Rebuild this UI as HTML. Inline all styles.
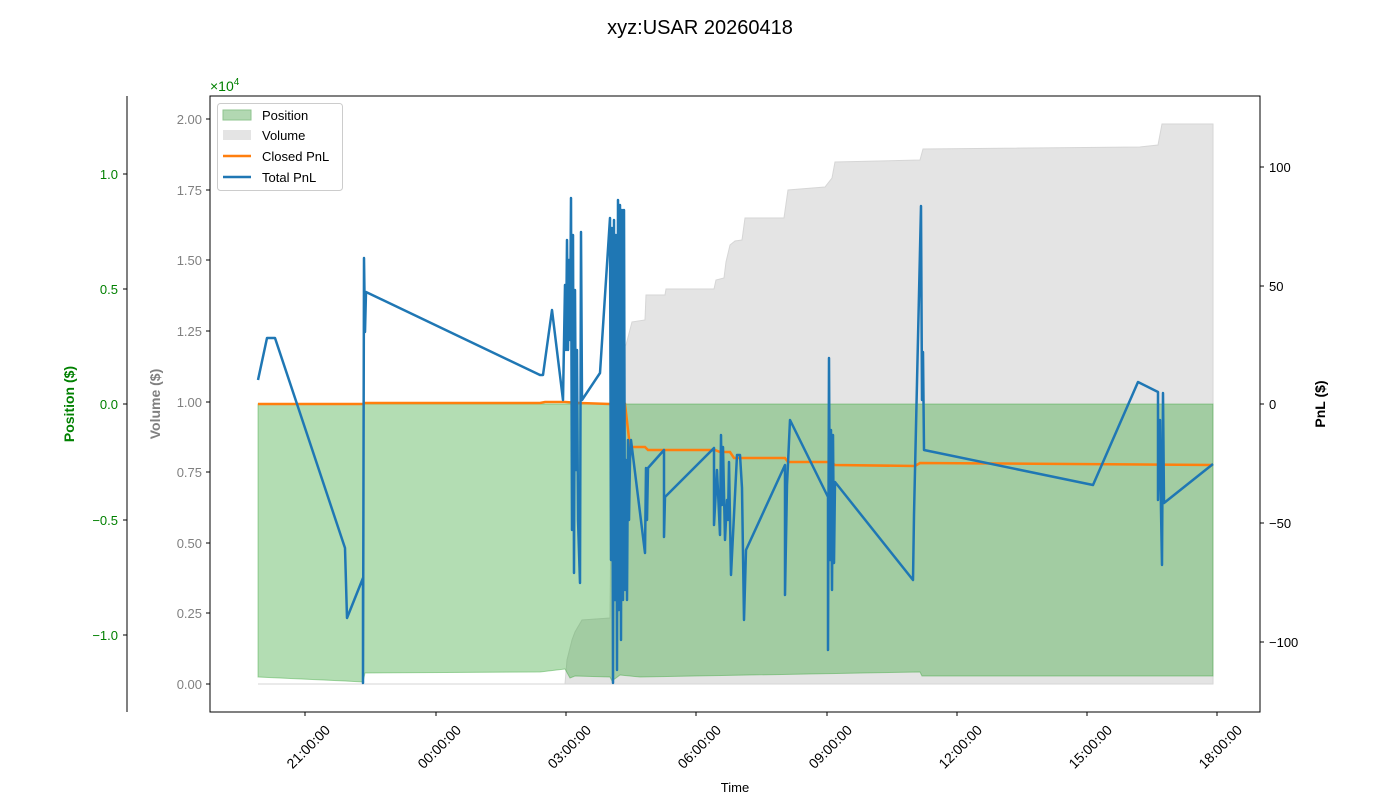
<!DOCTYPE html>
<html><head><style>body{margin:0;background:#fff}svg{display:block}text{font-family:"Liberation Sans","DejaVu Sans",sans-serif}</style></head>
<body>
<svg width="1400" height="800" xmlns="http://www.w3.org/2000/svg">
<text x="700" y="34" font-size="20" text-anchor="middle">xyz:USAR 20260418</text>
<polygon fill="#e4e4e4" stroke="#d6d6d6" stroke-width="1" points="258,684 565,684 567,660 572,640 575,632 582,620 610,618 612,390 620,350 626,345 632,322 645,320 646,295 665,295 666,289 714,289 716,280 724,278 726,262 730,245 735,241 742,240 745,218 784,218 788,190 825,187 832,178 835,162 920,160 923,149 1140,147 1158,145 1162,124 1213,124 1213,684"/>
<polygon fill="#2ca02c" fill-opacity="0.36" stroke="#2ca02c" stroke-opacity="0.4" stroke-width="1" points="258,404 1213,404 1213,676 922,676 920,672 640,677 620,675 612,681 610,677 575,676 570,678 565,669 540,672 365,673 363,682 345,681 258,677"/>
<polyline fill="none" stroke="#ff7f0e" stroke-width="2.5" points="258,404 363,404 365,403 540,403 545,402 565,402 580,403 610,404 625,404 630,447 645,447 648,450 715,450 720,452 730,452 734,458 785,458 788,462 830,462 835,465 915,466 920,463 1213,465"/>
<polyline fill="none" stroke="#1f77b4" stroke-width="2.5" stroke-linejoin="round" points="258,380 267,338 275,338 345,548 347,618 363,578 363,683 364,258 365,332 366,292 540,375 543,375 552,310 563,400 565,285 566,350 567,240 568,350 569,260 570,340 571,198 572,530 573,235 574,573 575,290 576,470 577,350 578,520 580,583 581,232 582,400 600,373 610,218 611,560 612,228 613,683 614,220 615,600 616,235 617,670 618,200 619,610 620,205 621,640 622,210 623,600 624,210 625,590 626,460 627,600 628,440 629,520 630,460 631,440 645,553 646,468 647,520 648,468 664,450 664,537 665,497 714,448 714,525 717,470 720,535 721,435 722,505 723,447 725,540 727,500 728,520 729,462 731,575 737,455 740,455 742,488 744,620 746,550 785,465 785,595 787,485 790,420 828,497 828,650 829,358 830,560 831,430 832,590 833,435 834,563 835,482 913,580 914,515 921,206 922,400 923,352 924,450 1093,485 1138,382 1158,392 1158,500 1160,420 1161,510 1162,565 1163,393 1164,503 1213,464"/>
<rect x="210" y="96" width="1050" height="616" fill="none" stroke="#000" stroke-width="1"/>
<g font-size="13" fill="#808080" text-anchor="end">
<line x1="206" y1="684" x2="210" y2="684" stroke="#000"/><text x="202" y="689">0.00</text>
<line x1="206" y1="613" x2="210" y2="613" stroke="#000"/><text x="202" y="618">0.25</text>
<line x1="206" y1="543" x2="210" y2="543" stroke="#000"/><text x="202" y="548">0.50</text>
<line x1="206" y1="472" x2="210" y2="472" stroke="#000"/><text x="202" y="477">0.75</text>
<line x1="206" y1="402" x2="210" y2="402" stroke="#000"/><text x="202" y="407">1.00</text>
<line x1="206" y1="331" x2="210" y2="331" stroke="#000"/><text x="202" y="336">1.25</text>
<line x1="206" y1="260" x2="210" y2="260" stroke="#000"/><text x="202" y="265">1.50</text>
<line x1="206" y1="190" x2="210" y2="190" stroke="#000"/><text x="202" y="195">1.75</text>
<line x1="206" y1="119" x2="210" y2="119" stroke="#000"/><text x="202" y="124">2.00</text>
</g>
<text x="160" y="404" font-size="14" font-weight="bold" fill="#808080" text-anchor="middle" transform="rotate(-90 160 404)">Volume ($)</text>
<text x="210" y="91" font-size="14" fill="#008000">×10<tspan font-size="10" dy="-6">4</tspan></text>
<line x1="127" y1="96" x2="127" y2="712" stroke="#000"/>
<g font-size="13" fill="#008000" text-anchor="end">
<line x1="123" y1="174" x2="127" y2="174" stroke="#000"/><text x="118" y="179">1.0</text>
<line x1="123" y1="289" x2="127" y2="289" stroke="#000"/><text x="118" y="294">0.5</text>
<line x1="123" y1="404" x2="127" y2="404" stroke="#000"/><text x="118" y="409">0.0</text>
<line x1="123" y1="520" x2="127" y2="520" stroke="#000"/><text x="118" y="525">−0.5</text>
<line x1="123" y1="635" x2="127" y2="635" stroke="#000"/><text x="118" y="640">−1.0</text>
</g>
<text x="74" y="404" font-size="14" font-weight="bold" fill="#008000" text-anchor="middle" transform="rotate(-90 74 404)">Position ($)</text>
<g font-size="13" fill="#000">
<line x1="1260" y1="167" x2="1264" y2="167" stroke="#000"/><text x="1269" y="172">100</text>
<line x1="1260" y1="286" x2="1264" y2="286" stroke="#000"/><text x="1269" y="291">50</text>
<line x1="1260" y1="404" x2="1264" y2="404" stroke="#000"/><text x="1269" y="409">0</text>
<line x1="1260" y1="523" x2="1264" y2="523" stroke="#000"/><text x="1269" y="528">−50</text>
<line x1="1260" y1="642" x2="1264" y2="642" stroke="#000"/><text x="1269" y="647">−100</text>
</g>
<text x="1325" y="404" font-size="14" font-weight="bold" text-anchor="middle" transform="rotate(-90 1325 404)">PnL ($)</text>
<g font-size="14" text-anchor="end">
<line x1="305" y1="712" x2="305" y2="716" stroke="#000"/><text transform="translate(331,731) rotate(-45)">21:00:00</text>
<line x1="436" y1="712" x2="436" y2="716" stroke="#000"/><text transform="translate(462,731) rotate(-45)">00:00:00</text>
<line x1="566" y1="712" x2="566" y2="716" stroke="#000"/><text transform="translate(592,731) rotate(-45)">03:00:00</text>
<line x1="696" y1="712" x2="696" y2="716" stroke="#000"/><text transform="translate(722,731) rotate(-45)">06:00:00</text>
<line x1="827" y1="712" x2="827" y2="716" stroke="#000"/><text transform="translate(853,731) rotate(-45)">09:00:00</text>
<line x1="957" y1="712" x2="957" y2="716" stroke="#000"/><text transform="translate(983,731) rotate(-45)">12:00:00</text>
<line x1="1087" y1="712" x2="1087" y2="716" stroke="#000"/><text transform="translate(1113,731) rotate(-45)">15:00:00</text>
<line x1="1217" y1="712" x2="1217" y2="716" stroke="#000"/><text transform="translate(1243,731) rotate(-45)">18:00:00</text>
</g>
<text x="735" y="792" font-size="13" text-anchor="middle">Time</text>
<rect x="217.5" y="103.5" width="125" height="87" rx="3" fill="#fff" fill-opacity="0.8" stroke="#ccc"/>
<rect x="223" y="110" width="28" height="10" fill="#b2d8b2" stroke="#8fc48f"/>
<rect x="223" y="130" width="28" height="10" fill="#e4e4e4"/>
<line x1="223" y1="156" x2="251" y2="156" stroke="#ff7f0e" stroke-width="2.5"/>
<line x1="223" y1="177" x2="251" y2="177" stroke="#1f77b4" stroke-width="2.5"/>
<g font-size="13"><text x="262" y="120">Position</text><text x="262" y="140">Volume</text><text x="262" y="161">Closed PnL</text><text x="262" y="182">Total PnL</text></g>
</svg>
</body></html>
